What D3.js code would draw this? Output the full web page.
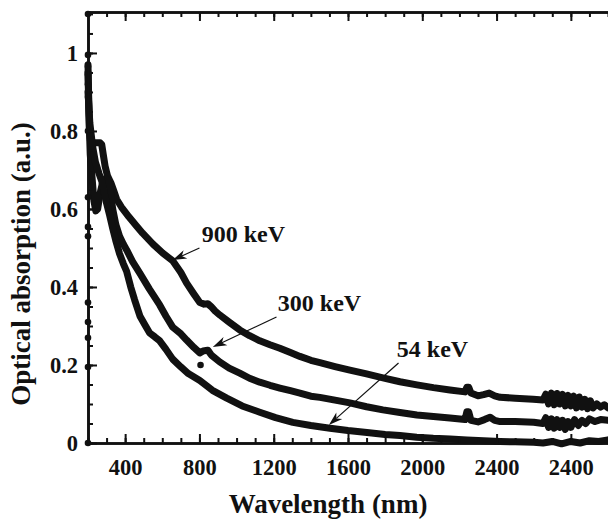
<!DOCTYPE html>
<html><head><meta charset="utf-8">
<script src="https://cdn.jsdelivr.net/npm/d3@7"></script>
<style>
body{margin:0;background:#fff;}
svg{display:block;}
text{font-family:"Liberation Serif","Times New Roman",serif;font-weight:bold;fill:#111;}
</style>
</head><body>
<svg id="chart" width="608" height="519"></svg>
<script>
// ---- data (wavelength nm, optical absorption a.u.) ----
const seriesNames = ["900 keV", "300 keV", "54 keV"];

const series900 = [[200,0.97],[204,0.88],[208,0.80],[213,0.775],[230,0.77],[250,0.77],[265,0.77],[274,0.765],[282,0.74],[292,0.71],[305,0.685],[315,0.675],[325,0.665],[340,0.645],[354,0.625],[380,0.605],[420,0.58],[460,0.557],[494,0.538],[550,0.51],[602,0.487],[656,0.467],[700,0.437],[731,0.41],[770,0.382],[802,0.36],[825,0.356],[845,0.357],[862,0.35],[885,0.338],[910,0.328],[960,0.31],[1017,0.29],[1070,0.275],[1125,0.262],[1180,0.252],[1233,0.243],[1290,0.232],[1341,0.222],[1400,0.212],[1449,0.206],[1530,0.196],[1610,0.187],[1700,0.177],[1788,0.167],[1880,0.157],[1971,0.149],[2060,0.142],[2149,0.136],[2230,0.131],[2240,0.143],[2250,0.143],[2262,0.128],[2300,0.121],[2330,0.124],[2360,0.128],[2390,0.121],[2419,0.117],[2500,0.115],[2597,0.112],[2650,0.11],[2665,0.125],[2680,0.1],[2695,0.128],[2710,0.098],[2725,0.127],[2740,0.1],[2755,0.125],[2770,0.095],[2785,0.122],[2800,0.095],[2815,0.12],[2830,0.09],[2845,0.118],[2860,0.092],[2875,0.112],[2890,0.088],[2905,0.108],[2920,0.09],[2940,0.1],[2960,0.092],[2980,0.098],[3000,0.09]];

const series300 = [[200,0.95],[205,0.84],[212,0.74],[222,0.68],[232,0.62],[242,0.595],[252,0.6],[265,0.64],[280,0.67],[295,0.678],[308,0.672],[320,0.645],[333,0.6],[350,0.56],[370,0.53],[390,0.51],[408,0.495],[440,0.465],[478,0.436],[530,0.395],[586,0.354],[620,0.325],[656,0.297],[700,0.28],[731,0.264],[770,0.245],[802,0.231],[820,0.236],[845,0.238],[865,0.225],[909,0.208],[960,0.192],[1017,0.179],[1070,0.166],[1125,0.156],[1180,0.148],[1233,0.141],[1290,0.134],[1341,0.128],[1400,0.12],[1449,0.117],[1530,0.11],[1610,0.103],[1700,0.093],[1788,0.085],[1880,0.078],[1971,0.072],[2060,0.068],[2149,0.064],[2230,0.06],[2240,0.08],[2250,0.08],[2262,0.058],[2300,0.054],[2335,0.06],[2365,0.066],[2390,0.058],[2419,0.055],[2500,0.055],[2600,0.053],[2650,0.05],[2665,0.065],[2680,0.04],[2695,0.062],[2710,0.038],[2725,0.06],[2740,0.04],[2755,0.058],[2770,0.035],[2785,0.055],[2800,0.04],[2820,0.06],[2840,0.045],[2860,0.058],[2880,0.05],[2900,0.062],[2930,0.055],[2960,0.06],[3000,0.058]];

const series54 = [[200,0.9],[210,0.82],[225,0.76],[240,0.72],[260,0.69],[275,0.67],[288,0.64],[300,0.615],[316,0.585],[333,0.55],[349,0.52],[370,0.485],[390,0.46],[408,0.44],[430,0.4],[451,0.367],[480,0.325],[510,0.3],[532,0.282],[560,0.272],[586,0.262],[620,0.24],[656,0.215],[700,0.195],[740,0.178],[802,0.16],[870,0.135],[947,0.115],[1030,0.095],[1125,0.079],[1210,0.065],[1303,0.053],[1400,0.045],[1503,0.038],[1600,0.032],[1702,0.027],[1800,0.022],[1880,0.019],[1970,0.015],[2059,0.012],[2150,0.01],[2241,0.008],[2330,0.006],[2419,0.004],[2500,0.003],[2600,0.002],[2650,0.0],[2700,0.004],[2750,-0.002],[2800,0.004],[2850,0.0],[2900,0.006],[2950,0.004],[3000,0.008]];

const edgeDots = [[200,1.1],[200,0.995],[200,0.965],[200,0.945],[200,0.92],[200,0.887],[200,0.8],[200,0.63],[200,0.554],[200,0.53],[200,0.36],[200,0.31],[200,0.27],[200,0.195],[200,0.0]];
const strayDots = [[806,0.2]];

const xTickValues = [400,800,1200,1600,2000,2400,2800];
const xTickLabels = ["400","800","1200","1600","2000","2400","2400"];
const yTickValues = [0,0.2,0.4,0.6,0.8,1];
const yTickLabels = ["0","0.2","0.4","0.6","0.8","1"];
const xTitle = "Wavelength (nm)";
const yTitle = "Optical absorption (a.u.)";

// annotation anchors in data coordinates: [text], [arrow start], [arrow tip]
const annotTextAt = [[812,0.515],[1222,0.338],[1863,0.22]];
const annotFrom   = [[800,0.500],[1215,0.323],[1872,0.205]];
const annotTo     = [[656,0.469],[872,0.246],[1497,0.046]];

// ---- layout ----
const svg = d3.select("#chart");
const mLeft = 88, mRight = 608, mTop = 12, mBottom = 443;
const x = d3.scaleLinear().domain([200, 3000]).range([mLeft, mRight]);
const y = d3.scaleLinear().domain([0, 1.105]).range([mBottom, mTop]);
const ink = "#111";

// curves
const line = d3.line().x(d => x(d[0])).y(d => y(d[1]));
[series900, series300, series54].forEach(s => {
  svg.append("path").datum(s).attr("d", line)
    .attr("fill", "none").attr("stroke", ink).attr("stroke-width", 7)
    .attr("stroke-linejoin", "round").attr("stroke-linecap", "round");
});
svg.selectAll(".edot").data(edgeDots.concat(strayDots)).enter().append("circle")
  .attr("cx", d => x(d[0])).attr("cy", d => y(d[1])).attr("r", 3.3).attr("fill", ink);

// axes
const minorX = d3.range(200, 3001, 100);
const minorY = d3.range(0, 1.101, 0.05);
function styleAxis(g){
  g.selectAll("path.domain").attr("stroke", ink).attr("stroke-width", 2.6).attr("fill", "none");
  g.selectAll(".tick line").attr("stroke", ink).attr("stroke-width", 2);
}
// bottom
svg.append("g").attr("transform", `translate(0,${mBottom})`)
  .call(d3.axisBottom(x).tickValues(minorX).tickSize(-5).tickSizeOuter(0).tickFormat(""))
  .call(styleAxis);
const gb = svg.append("g").attr("transform", `translate(0,${mBottom})`)
  .call(d3.axisBottom(x).tickValues(xTickValues).tickSize(-9).tickSizeOuter(0).tickPadding(16)
    .tickFormat((d,i) => xTickLabels[i]))
  .call(styleAxis);
gb.attr("font-family", null).attr("font-size", null);
gb.selectAll("text").attr("font-size", 22.5).style("fill", ink);
// top
svg.append("g").attr("transform", `translate(0,${mTop})`)
  .call(d3.axisTop(x).tickValues(minorX).tickSize(-5).tickSizeOuter(0).tickFormat(""))
  .call(styleAxis);
svg.append("g").attr("transform", `translate(0,${mTop})`)
  .call(d3.axisTop(x).tickValues(xTickValues).tickSize(-9).tickSizeOuter(0).tickFormat(""))
  .call(styleAxis);
// left
svg.append("g").attr("transform", `translate(${mLeft},0)`)
  .call(d3.axisLeft(y).tickValues(minorY).tickSize(-5).tickSizeOuter(0).tickFormat(""))
  .call(styleAxis);
const gl = svg.append("g").attr("transform", `translate(${mLeft},0)`)
  .call(d3.axisLeft(y).tickValues(yTickValues).tickSize(-9).tickSizeOuter(0).tickPadding(10)
    .tickFormat((d,i) => yTickLabels[i]))
  .call(styleAxis);
gl.attr("font-family", null).attr("font-size", null);
gl.selectAll("text").attr("font-size", 22.5).style("fill", ink);

// titles
svg.append("text").attr("x", 328).attr("y", 513).attr("text-anchor", "middle")
  .attr("font-size", 27).text(xTitle);
svg.append("text").attr("transform", "translate(30,264) rotate(-90)").attr("text-anchor", "middle")
  .attr("font-size", 27).text(yTitle);

// annotations
seriesNames.forEach((name, i) => {
  svg.append("text").attr("x", x(annotTextAt[i][0])).attr("y", y(annotTextAt[i][1]))
    .attr("font-size", 24).text(name);
  const x1 = x(annotFrom[i][0]), y1 = y(annotFrom[i][1]);
  const x2 = x(annotTo[i][0]), y2 = y(annotTo[i][1]);
  const ang = Math.atan2(y2 - y1, x2 - x1);
  const L = 14, W = 4.5, N = 10;
  const ux = Math.cos(ang), uy = Math.sin(ang), px = -uy, py = ux;
  const bx = x2 - ux * L, by = y2 - uy * L;
  const nx = x2 - ux * N, ny = y2 - uy * N;
  svg.append("line").attr("x1", x1).attr("y1", y1).attr("x2", nx).attr("y2", ny)
    .attr("stroke", ink).attr("stroke-width", 1.2);
  svg.append("path")
    .attr("d", `M${x2},${y2}L${bx + px*W},${by + py*W}L${nx},${ny}L${bx - px*W},${by - py*W}Z`)
    .attr("fill", ink);
});
</script>
</body></html>
